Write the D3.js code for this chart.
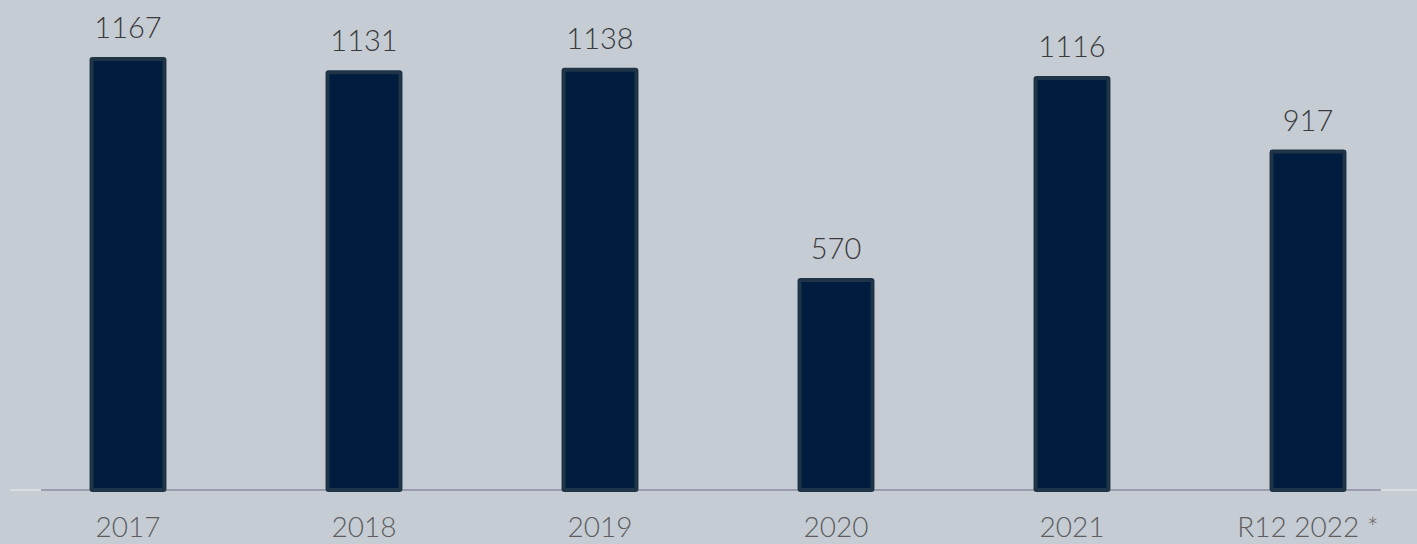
<!DOCTYPE html>
<html>
<head>
<meta charset="utf-8">
<script src="https://cdn.jsdelivr.net/npm/d3@7"></script>
<style>
	body{margin:0;background:#c5ccd4;}
	svg{display:block;}
	.val{font-family:Lato, "Open Sans", sans-serif;font-size:29px;font-weight:300;fill:#3b3b3d;}
	.cat{font-family:Lato, "Open Sans", sans-serif;font-size:28px;font-weight:300;fill:#5e5e60;}
</style>
</head>
<body>
<div id="chart"></div>
<script>
var categories = ['2017','2018','2019','2020','2021','R12 2022 *'];
var values = [1167, 1131, 1138, 570, 1116, 917];

var W = 1417, H = 544;
var baseY = 489;

var svg = d3.select('#chart').append('svg')
	.attr('width', W)
	.attr('height', H);

svg.append('rect')
	.attr('width', W).attr('height', H)
	.attr('fill', '#c5ccd4');

var x = d3.scaleBand()
	.domain(categories)
	.range([10, 1426])
	.paddingInner(0.674)
	.paddingOuter(0.337);

var y = d3.scaleLinear()
	.domain([0, 1167])
	.range([baseY, 57]);

//faint ends of the axis line
svg.append('path')
	.attr('d', d3.line()([[10, 490], [1417, 490]]))
	.attr('stroke', '#dadde2')
	.attr('stroke-width', 2)
	.attr('fill', 'none');
svg.append('path')
	.attr('d', d3.line()([[41, 490], [1381, 490]]))
	.attr('stroke', '#9b9caf')
	.attr('stroke-width', 2)
	.attr('fill', 'none');

//bars
svg.selectAll('.bar')
	.data(values)
	.enter().append('rect')
	.attr('class','bar')
	.attr('x', function(d,i){ return x(categories[i]) + 2; })
	.attr('y', function(d){ return y(d) + 2; })
	.attr('width', x.bandwidth() - 4)
	.attr('height', function(d){ return baseY - y(d) - 1; })
	.attr('rx', 1)
	.attr('fill', '#001d3f')
	.attr('stroke', '#1f3547')
	.attr('stroke-width', 4);

//value labels
svg.selectAll('.val')
	.data(values)
	.enter().append('text')
	.attr('class','val')
	.attr('x', function(d,i){ return x(categories[i]) + x.bandwidth()/2; })
	.attr('y', function(d){ return y(d) - 19; })
	.attr('text-anchor','middle')
	.text(function(d){ return d; });

//category labels
svg.selectAll('.cat')
	.data(categories)
	.enter().append('text')
	.attr('class','cat')
	.attr('x', function(d){ return x(d) + x.bandwidth()/2; })
	.attr('y', 537)
	.attr('text-anchor','middle')
	.text(function(d){ return d; });
</script>
</body>
</html>
